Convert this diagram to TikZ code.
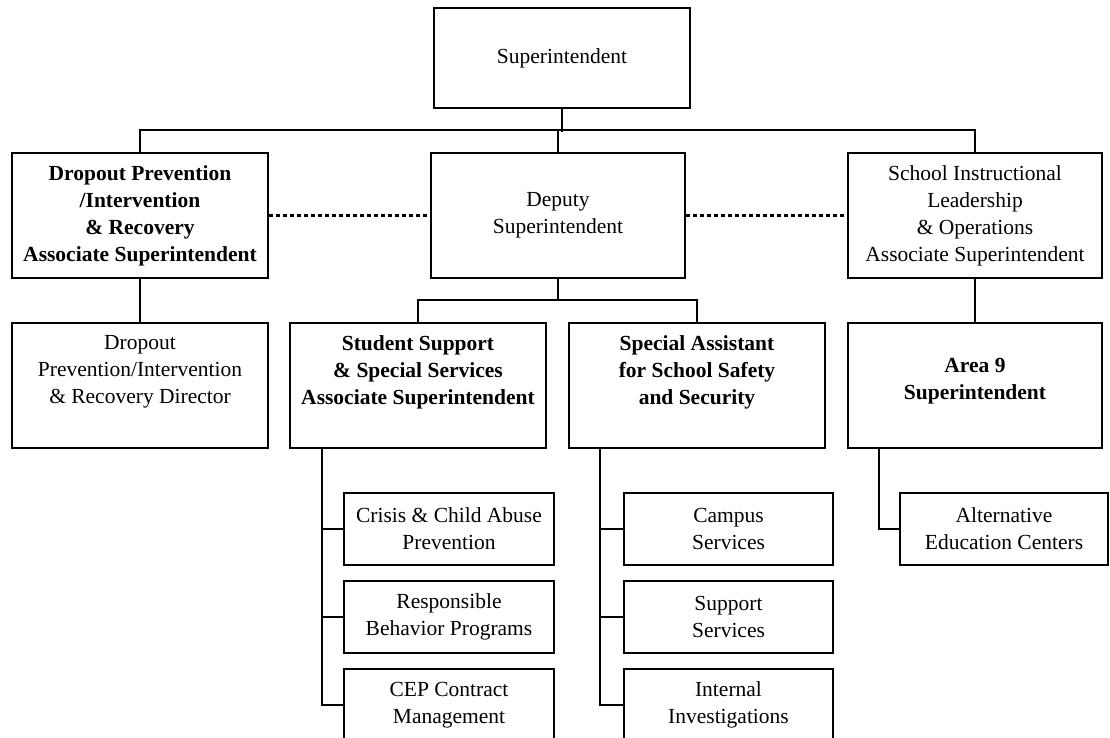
\documentclass[tikz,border=0pt]{standalone}
\usepackage{fontspec}
\setmainfont{Liberation Serif}
\usetikzlibrary{positioning}

\begin{document}
\begin{tikzpicture}[x=1pt, y=-1pt,
  orgbox/.style={draw, line width=1.5pt, minimum width=256pt, minimum height=125pt, inner sep=0pt},
  subbox/.style={draw, line width=1.5pt, minimum width=210pt, minimum height=72pt, inner sep=0pt},
  boxtext/.style={align=center, inner sep=0pt, font=\fontsize{21.5}{27}\selectfont},
  headtext/.style={boxtext, font=\fontsize{21.5}{27}\selectfont\bfseries},
  link/.style={line width=1.5pt},
  dotlink/.style={line width=2.5pt, dash pattern=on 4pt off 3pt}]
  \useasboundingbox (0,0) rectangle (1110,738);
  \clip (0,0) rectangle (1110,738);
  % Top
  \node[orgbox, boxtext, minimum height=100pt] (sup) at (562,58) {Superintendent};
  % First level
  \node[orgbox, headtext] (dpa) at (140,215.5) {Dropout Prevention\\/Intervention\\\& Recovery\\Associate Superintendent};
  \node[orgbox, boxtext, minimum width=254pt] (dep) at (558,215.5) {Deputy\\Superintendent};
  \node[orgbox, boxtext, minimum width=254pt] (sil) at (975,215.5) {School Instructional\\Leadership\\\& Operations\\Associate Superintendent};
  % Second level (text sits high in the box)
  \node[orgbox] (dpd) at (140,385.5) {};
  \node[boxtext] (dpd-t) at (140,372) {Dropout\\Prevention/Intervention\\\& Recovery Director};
  \node[orgbox] (ssa) at (418,385.5) {};
  \node[headtext] (ssa-t) at (418,372) {Student Support\\\& Special Services\\Associate Superintendent};
  \node[orgbox] (spa) at (697,385.5) {};
  \node[headtext] (spa-t) at (697,372) {Special Assistant\\for School Safety\\and Security};
  \node[orgbox, minimum width=254pt] (ara) at (975,385.5) {};
  \node[headtext] (ara-t) at (975,381) {Area 9\\Superintendent};
  % Third level
  \node[subbox, boxtext] (crisis) at (449,529) {Crisis \& Child Abuse\\Prevention};
  \node[subbox, boxtext] (resp) at (449,617) {Responsible\\Behavior Programs};
  \node[subbox, boxtext] (cep) at (449,705) {CEP Contract\\Management};
  \node[subbox, boxtext, minimum width=209pt] (campus) at (728.5,529) {Campus\\Services};
  \node[subbox, boxtext, minimum width=209pt] (supp) at (728.5,617) {Support\\Services};
  \node[subbox, boxtext, minimum width=209pt] (intinv) at (728.5,705) {Internal\\Investigations};
  \node[subbox, boxtext, minimum width=208pt] (alt) at (1004,529) {Alternative\\Education Centers};
  % Lines from the superintendent
  \draw[link] (sup.south) -- ++(0,23);
  \draw[link] (dpa.north) -- ++(0,-22) -| (sil.north);
  \draw[link] (dep.north) -- ++(0,-22);
  % Dotted coordination lines
  \draw[dotlink] (dpa.east) -- (dep.west);
  \draw[dotlink] (dep.east) -- (sil.west);
  % Lines to the second level
  \draw[link] (dep.south) -- ++(0,22.5);
  \draw[link] (ssa.north) -- ++(0,-22.5) -| (spa.north);
  \draw[link] (dpa.south) -- (dpd.north);
  \draw[link] (sil.south) -- (ara.north);
  % Branches to the third level
  \draw[link] ([xshift=-96pt]ssa.south) |- (cep.west);
  \draw[link] (crisis.west) -- ++(-22,0);
  \draw[link] (resp.west) -- ++(-22,0);
  \draw[link] ([xshift=-97pt]spa.south) |- (intinv.west);
  \draw[link] (campus.west) -- ++(-24,0);
  \draw[link] (supp.west) -- ++(-24,0);
  \draw[link] ([xshift=-96pt]ara.south) |- (alt.west);
\end{tikzpicture}
\end{document}
